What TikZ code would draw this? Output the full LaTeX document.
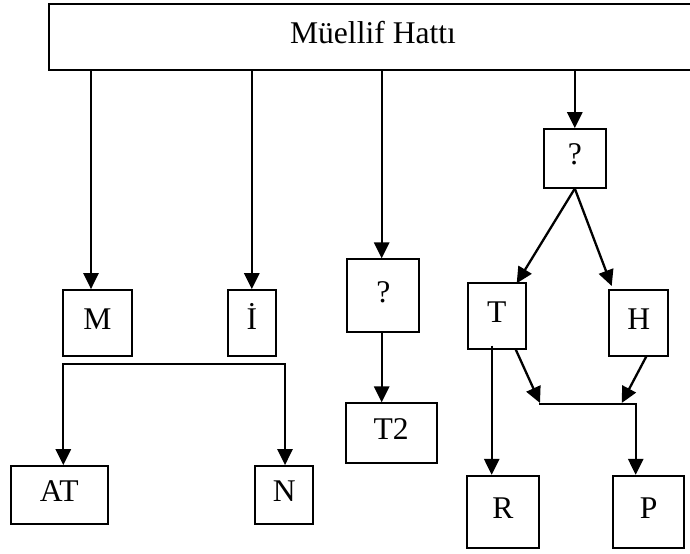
\documentclass[tikz,border=0pt]{standalone}
\usepackage{fontspec}
\setmainfont{Liberation Serif}
\usetikzlibrary{arrows.meta}
\begin{document}
\begin{tikzpicture}[x=0.5pt,y=-0.5pt,
  box/.style={draw,line width=0.9pt,inner sep=0pt,
    font=\fontsize{15.8}{18}\selectfont,text height=0.66em,text depth=0pt},
  tip/.style={Triangle[length=8pt,width=7.6pt]},
  arr/.style={line width=1.15pt,-{Triangle[length=8pt,width=7.6pt]}},
  dblarr/.style={line width=1.15pt,{Triangle[length=8pt,width=7.6pt]}-{Triangle[length=8pt,width=7.6pt]}}]
\useasboundingbox (0,0) rectangle (690,553);
\clip (0,0) rectangle (690,553);
\fill[white] (0,0) rectangle (690,553);

% header box (runs past the right edge)
\node[box,minimum width=324pt,minimum height=33pt] (top) at (373,37) {Müellif Hattı};

% boxes
\node[box,minimum width=34.2pt,minimum height=33pt] (M) at (97.5,323) {M};
\node[box,minimum width=24.15pt,minimum height=33pt] (I) at (251.8,323) {İ};
\node[box,minimum width=48.35pt,minimum height=29pt] (AT) at (59.3,495) {AT};
\node[box,minimum width=29pt,minimum height=29pt] (N) at (284.3,495) {N};
\node[box,minimum width=36pt,minimum height=36.2pt] (q1) at (383.3,295.5) {?};
\node[box,minimum width=45.5pt,minimum height=30pt] (T2) at (391.2,433.3) {T2};
\node[box,minimum width=31.15pt,minimum height=29.35pt] (q2) at (574.8,158.3) {?};
\node[box,minimum width=29pt,minimum height=32.85pt] (T) at (496.7,316.2) {T};
\node[box,minimum width=29.35pt,minimum height=32.85pt] (H) at (638.7,322.8) {H};
\node[box,minimum width=35.7pt,minimum height=36.3pt] (R) at (503,512) {R};
\node[box,minimum width=35.35pt,minimum height=36.3pt] (P) at (648.7,512) {P};

% helper points for the connectors
\coordinate (a1) at (91,70);
\coordinate (a3) at (381.7,70);
\coordinate (b1) at (63.3,364.3);
\coordinate (b2) at (285,364.3);
\coordinate (tT) at (516.7,283.3);
\coordinate (tH) at (611.7,286);
\coordinate (r1) at (491.7,345.7);
\coordinate (s1) at (515.5,349);
\coordinate (s2) at (646.7,355.7);
\coordinate (e1) at (540,403);
\coordinate (e2) at (621.7,403);
\coordinate (j1) at (539.3,404);
\coordinate (j2) at (635.7,404);

% from the header
\draw[arr] (a1) -- (a1 |- M.north);
\draw[arr] (top.south -| I.north) -- (I.north);
\draw[arr] (a3) -- (a3 |- q1.north);
\draw[arr] (top.south -| q2.north) -- (q2.north);

% lower branches
\draw[dblarr] (b1 |- AT.north) -- (b1) -- (b2) -- (b2 |- N.north);
\draw[arr] (q1.south -| a3) -- (a3 |- T2.north);
\draw[arr] (q2.south) -- (tT);
\draw[arr] (q2.south) -- (tH);
\draw[arr] (r1) -- (r1 |- R.north);
\draw[arr] (s1) -- (e1);
\draw[arr] (s2) -- (e2);
\draw[arr] (j1) -- (j2) -- (j2 |- P.north);
\end{tikzpicture}
\end{document}
